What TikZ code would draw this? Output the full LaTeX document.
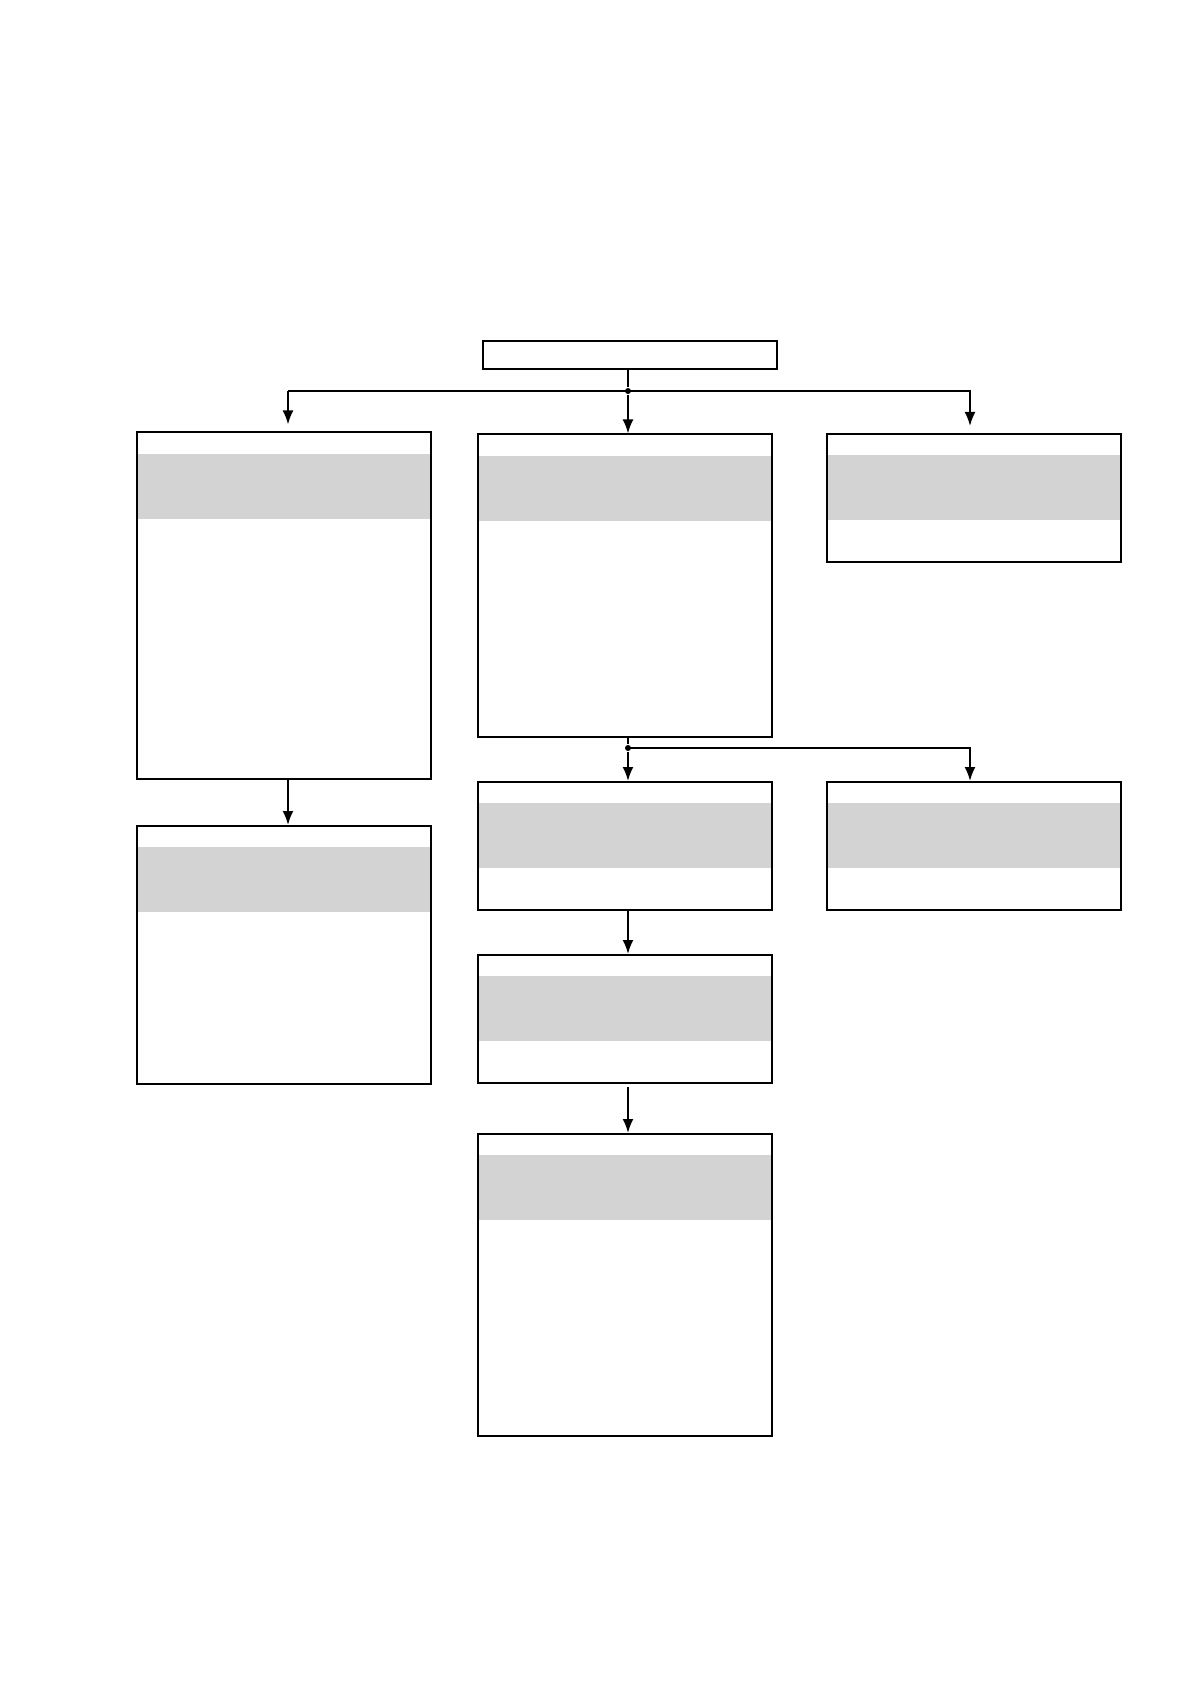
\documentclass[tikz,border=0pt]{standalone}
\usepackage{tikz}
\usetikzlibrary{arrows.meta,positioning}
\definecolor{bandgray}{RGB}{211,211,211}

\begin{document}
\begin{tikzpicture}[x=0.5pt,y=-0.5pt,>={Latex[length=7pt,width=5.5pt]},line width=1pt,
  box/.style={draw,rectangle,inner sep=0pt,minimum width=147pt},
  banded/.style={box,path picture={\fill[bandgray]
      ([yshift=-10.5pt]path picture bounding box.north west) rectangle
      ([yshift=-43pt]path picture bounding box.north east);}},
  dot/.style={circle,fill,inner sep=0pt,minimum size=3pt}]
  \useasboundingbox (0,0) rectangle (1191,1684);
  % top row
  \node[box,minimum height=14pt] (top) at (630,355.5) {};
  \node[banded,minimum height=173pt] (left1) at (284,605.5) {};
  \node[banded,minimum height=151pt] (mid1) at (624.5,585.5) {};
  \node[banded,minimum height=64pt] (right1) at (973.5,498) {};
  % second row
  \node[banded,minimum height=129pt] (left2) at (284,955) {};
  \node[banded,minimum height=64pt] (mid2) at (624.5,846) {};
  \node[banded,minimum height=64pt] (right2) at (973.5,846) {};
  \node[banded,minimum height=64pt] (mid3) at (624.5,1019) {};
  \node[banded,minimum height=151pt] (mid4) at (624.5,1285) {};
  % junctions
  \node[dot] (j1) at (628,391) {};
  \node[dot] (j2) at (628,748) {};
  \coordinate (jl) at (288,391);
  \coordinate (jr) at (970,391);
  \coordinate (jr2) at (970,748);
  \draw (top.south -| j1) -- (j1);
  \draw[->] (jl) -- (j1.center) -- (jr) -- ([yshift=3.5pt]jr |- right1.north);
  \draw[->] (jl) -- ([yshift=3.5pt]jl |- left1.north);
  \draw[->] (j1) -- (j1 |- mid1.north);
  \draw[->] (jl |- left1.south) -- (jl |- left2.north);
  \draw (j2 |- mid1.south) -- (j2);
  \draw[->] (j2.center) -- (jr2) -- (jr2 |- right2.north);
  \draw[->] (j2) -- (j2 |- mid2.north);
  \draw[->] (j2 |- mid2.south) -- (j2 |- mid3.north);
  \draw[->] ([yshift=-1.5pt]j2 |- mid3.south) -- (j2 |- mid4.north);
\end{tikzpicture}
\end{document}
